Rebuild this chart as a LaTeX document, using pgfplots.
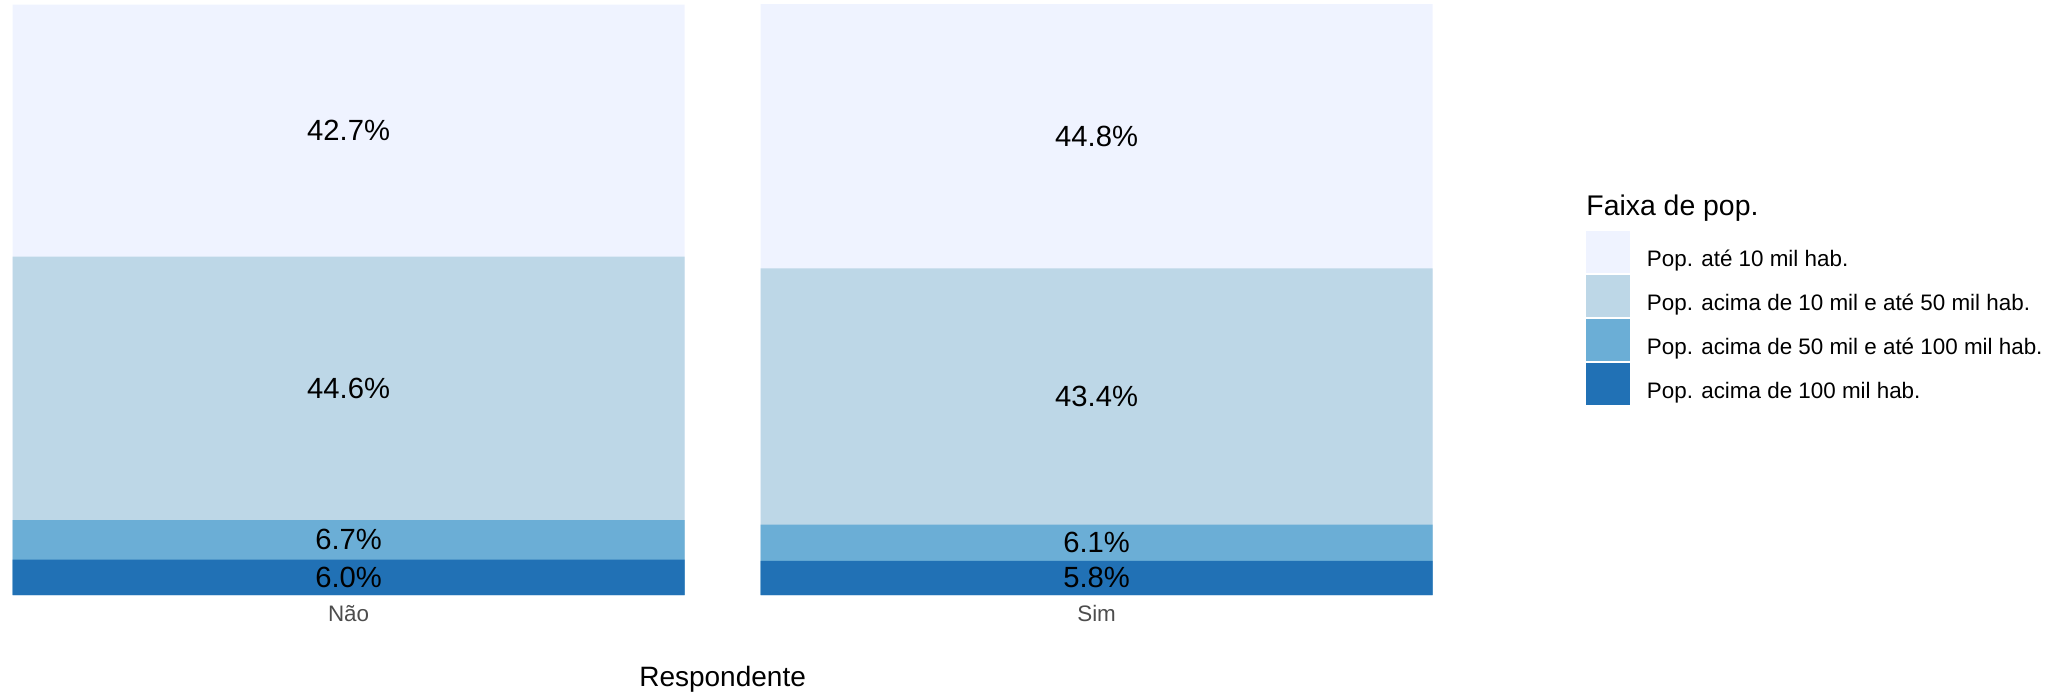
\documentclass[border=0pt]{standalone}
\usepackage{pgfplots}
\pgfplotsset{compat=1.18}
\usepackage{pgfplotstable}
\usepackage{fontspec}
\setmainfont{Liberation Sans}

\definecolor{fxA}{HTML}{EFF3FF}
\definecolor{fxB}{HTML}{BDD7E7}
\definecolor{fxC}{HTML}{6BAED6}
\definecolor{fxD}{HTML}{2171B5}
\definecolor{tickgray}{HTML}{4D4D4D}

% share of each population band, bottom (largest towns) to top
\pgfplotstableread{
x  p100  p50  p10   ate10
1  6.0   6.7  44.6  42.7
2  5.8   6.1  43.4  44.8
}\faixas

\begin{document}
\begin{tikzpicture}
\begin{axis}[
    scale only axis,
    width=722.6pt, height=295.25pt,
    xmin=0.534, xmax=2.466,
    ymin=0, ymax=100,
    axis line style={draw=none},
    tick style={draw=none},
    ytick=\empty,
    xtick={1,2},
    xticklabels={Não,Sim},
    xticklabel style={anchor=base, yshift=-13pt, text=tickgray,
        font=\fontsize{11.2}{13}\selectfont},
    xlabel={Respondente},
    xlabel style={at={(axis description cs:0.5,0)}, anchor=base,
        yshift=-45.5pt, font=\fontsize{14}{17}\selectfont},
    legend style={
        at={(axis description cs:1.0974,0.6164)}, anchor=north west,
        draw=none, fill=none, inner sep=0pt, outer sep=0pt,
        font=\fontsize{11.2}{13}\selectfont,
        row sep=1pt,
        nodes={inner sep=0pt},
        /tikz/every odd column/.append style={column sep=8.5pt},
    },
    legend cell align=left,
    legend image code/.code={\fill[#1] (0pt,-6.5pt) rectangle (22pt,14.5pt);},
    seg/.style={ybar, bar width=336pt, bar shift=0pt, draw=none},
    lab/.style={only marks, mark=none, forget plot, point meta=explicit,
        nodes near coords={\pgfmathprintnumber[fixed,fixed zerofill,precision=1,assume math mode=true]{\pgfplotspointmeta}\%},
        every node near coord/.append style={anchor=center, text=black,
            font=\fontsize{14.6}{17}\selectfont}},
]
\addplot[seg, fill=fxA] table[x=x, y expr=\thisrow{p100}+\thisrow{p50}+\thisrow{p10}+\thisrow{ate10}] {\faixas};
\addlegendentry{Pop. até 10 mil hab.}
\addplot[seg, fill=fxB] table[x=x, y expr=\thisrow{p100}+\thisrow{p50}+\thisrow{p10}] {\faixas};
\addlegendentry{Pop. acima de 10 mil e até 50 mil hab.}
\addplot[seg, fill=fxC] table[x=x, y expr=\thisrow{p100}+\thisrow{p50}] {\faixas};
\addlegendentry{Pop. acima de 50 mil e até 100 mil hab.}
\addplot[seg, fill=fxD] table[x=x, y=p100] {\faixas};
\addlegendentry{Pop. acima de 100 mil hab.}

\addplot[lab] table[x=x, y expr=\thisrow{p100}/2, meta=p100] {\faixas};
\addplot[lab] table[x=x, y expr=\thisrow{p100}+\thisrow{p50}/2, meta=p50] {\faixas};
\addplot[lab] table[x=x, y expr=\thisrow{p100}+\thisrow{p50}+\thisrow{p10}/2, meta=p10] {\faixas};
\addplot[lab] table[x=x, y expr=\thisrow{p100}+\thisrow{p50}+\thisrow{p10}+\thisrow{ate10}/2, meta=ate10] {\faixas};
\end{axis}
\node[anchor=base west, inner sep=0pt, font=\fontsize{14.2}{17}\selectfont]
    at ([shift={(793pt,190pt)}]current axis.south west) {Faixa de pop.};
\pgfresetboundingbox
\path[use as bounding box] (0,-49pt) rectangle (1028pt,297.5pt);
\end{tikzpicture}
\end{document}
